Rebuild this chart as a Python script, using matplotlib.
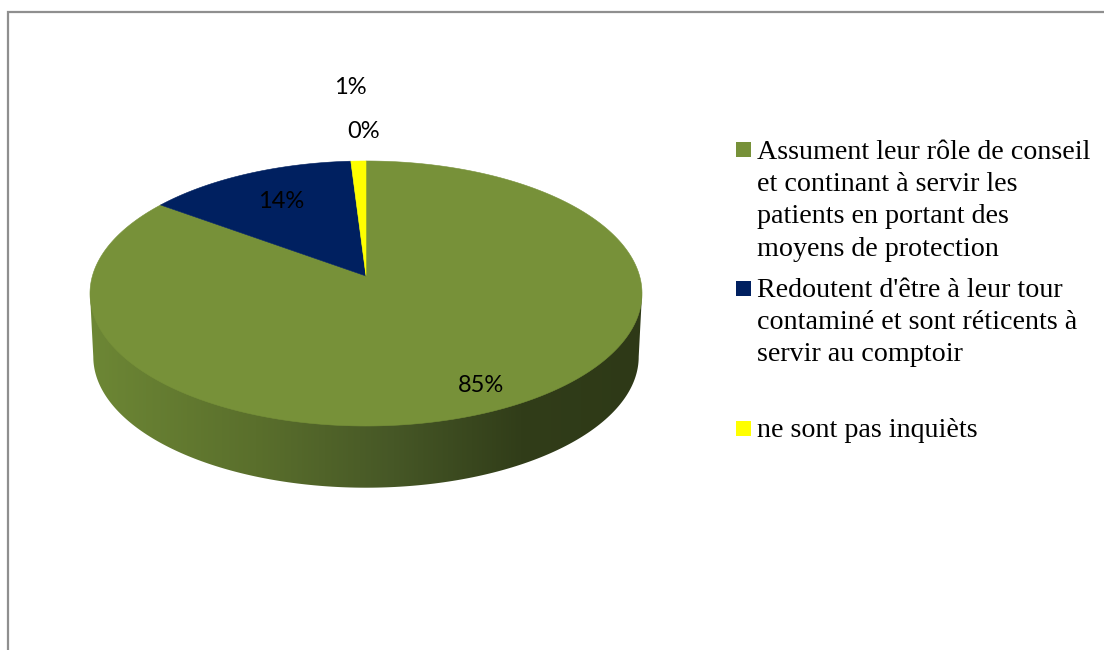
import numpy as np
import matplotlib
matplotlib.use('Agg')
import matplotlib.pyplot as plt
from matplotlib.colors import LinearSegmentedColormap
from matplotlib.patches import Polygon, Rectangle

# Data
values = [85, 14, 1, 0]
pct_labels = ['85%', '14%', '1%', '0%']
legend_labels = [
    "Assument leur rôle de conseil\net continant à servir les\npatients en portant des\nmoyens de protection",
    "Redoutent d'être à leur tour\ncontaminé et sont réticents à\nservir au comptoir",
    "ne sont pas inquièts",
]
colors = ['#779139', '#002060', '#FFFF00', '#C00000']

# Pie geometry in pixels (perspective view of a disc)
apex_x, apex_y = 366, 276
rx, ry, persp = 273.6, 130.2, 0.132
depth = 63.5
bottom_scale = 0.988


def rim(theta, y_off=0, scale=1.0):
    u, v = np.cos(theta), np.sin(theta)
    w = 1 + persp * v
    return apex_x + scale * rx * u / w, apex_y + y_off - scale * ry * v / w


fig = plt.figure(figsize=(11.04, 6.5), dpi=100, facecolor='white')
ax = fig.add_axes([0, 0, 1, 1])
ax.set_xlim(0, 1104)
ax.set_ylim(650, 0)
ax.axis('off')

# Chart frame, open at the bottom and right
ax.plot([8, 8, 1104], [650, 12, 12], color='#8f8f8f', lw=1.6, solid_joinstyle='miter')

# Side of the pie with its gradient
edge = np.arcsin(persp)
front = np.linspace(np.pi + edge, 2 * np.pi - edge, 200)
bx, by = rim(front, depth, bottom_scale)
tx, ty = rim(front, 0)
side_pts = np.vstack([[tx[0], ty[0]], np.column_stack([bx, by]), [tx[-1], ty[-1]]])
side = Polygon(side_pts, closed=True, facecolor='none', edgecolor='none')
ax.add_patch(side)
side_cmap = LinearSegmentedColormap.from_list(
    'side', [(0, '#6d8735'), (0.3, '#5a6f2c'), (0.55, '#465726'), (0.78, '#313d19'), (1, '#2e3917')])
img = ax.imshow(np.linspace(0, 1, 256).reshape(1, -1), cmap=side_cmap, aspect='auto',
                extent=[tx[0], tx[-1], 500, 280], zorder=1)
img.set_clip_path(side)
ax.set_xlim(0, 1104)
ax.set_ylim(650, 0)

# Top of the pie, clockwise from 12 o'clock
start = 90.0
for val, col in zip(values, colors):
    if val == 0:
        continue
    end = start - val * 3.6
    th = np.radians(np.linspace(start, end, 300))
    x, y = rim(th)
    pts = np.vstack([[apex_x, apex_y], np.column_stack([x, y])])
    ax.add_patch(Polygon(pts, closed=True, facecolor=col, edgecolor=col, lw=0.4, zorder=2))
    start = end

# Percent labels
label_pos = [(481, 385), (281, 201), (350, 87), (364, 131)]
for txt, (lx, ly) in zip(pct_labels, label_pos):
    ax.text(lx, ly, txt, family='Lato', fontsize=17, color='black', ha='center', va='center', zorder=3)

# Legend
square_y = [142, 281, 421]
text_y = [140, 278, 418]
for txt, col, sy, top in zip(legend_labels, colors, square_y, text_y):
    ax.add_patch(Rectangle((736, sy), 15, 15, facecolor=col, edgecolor='none'))
    ax.text(757, top, txt, family='Liberation Serif', fontsize=20.15, color='black',
            ha='left', va='top', linespacing=1.38)

fig.savefig('out.png', dpi=100, facecolor='white')
